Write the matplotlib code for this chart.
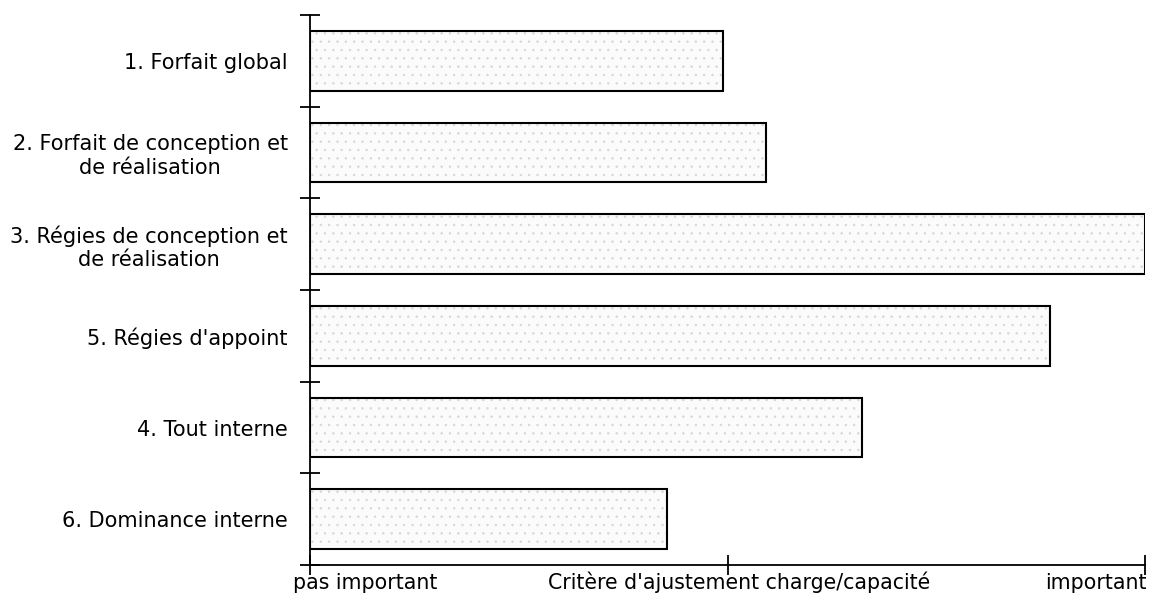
import matplotlib.pyplot as plt
import matplotlib.transforms as mtransforms

# categories, top to bottom
categories = [
    "1. Forfait global",
    "2. Forfait de conception et\nde réalisation",
    "3. Régies de conception et\nde réalisation",
    "5. Régies d'appoint",
    "4. Tout interne",
    "6. Dominance interne",
]
# importance score, 0 = pas important, 1 = important
values = [0.495, 0.546, 1.0, 0.886, 0.661, 0.427]
xtick_labels = ["pas important", "Critère d'ajustement charge/capacité", "important"]

plt.rcParams['font.family'] = ['DejaVu Sans']
plt.rcParams['hatch.linewidth'] = 0.5

fig = plt.figure(figsize=(11.55, 6), dpi=100)
ax = fig.add_axes([310 / 1155, 35 / 600, 835 / 1155, 550 / 600])

pos = list(range(len(categories)))
# light stipple fill, then the black outline on top
ax.barh(pos, values, height=0.65, color='#fbfbfb', linewidth=0, zorder=1)
ax.barh(pos, values, height=0.65, fill=False, edgecolor='#d6d6d6',
        linewidth=0, hatch='..', zorder=2)
ax.barh(pos, values, height=0.65, fill=False, edgecolor='black',
        linewidth=1.5, zorder=3)

ax.set_ylim(len(categories) - 0.5, -0.5)
ax.set_xlim(0, 1)

# ticks between categories, labels at bar centres
ax.set_yticks([p - 0.5 for p in pos] + [len(categories) - 0.5])
ax.set_yticklabels([])
ax.set_yticks(pos, minor=True)
ax.set_yticklabels(categories, minor=True, fontsize=15, ha='right',
                   multialignment='center')
ax.tick_params(axis='y', which='minor', length=0, pad=16)
ax.tick_params(axis='y', which='major', direction='inout', length=14, width=1.3)

ax.set_xticks([0, 0.5, 1])
ax.set_xticklabels(xtick_labels, fontsize=14.8)
ax.tick_params(axis='x', direction='inout', length=14, width=1.3, pad=2)
# put the three labels on one baseline, shifted like the original
shifts = [-0.17, 0.12, 0.02]
aligns = ['left', 'center', 'right']
for lab, dx, ha in zip(ax.get_xticklabels(), shifts, aligns):
    lab.set_horizontalalignment(ha)
    lab.set_verticalalignment('baseline')
    lab.set_transform(lab.get_transform() +
                      mtransforms.ScaledTranslation(dx, -0.115, fig.dpi_scale_trans))

for s in ['top', 'right']:
    ax.spines[s].set_visible(False)
for s in ['left', 'bottom']:
    ax.spines[s].set_linewidth(1.3)

fig.savefig('out.png', dpi=100)
